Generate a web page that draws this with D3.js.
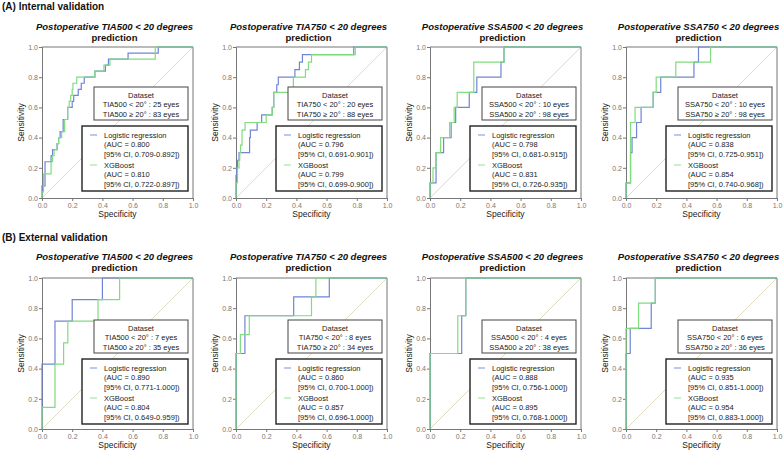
<!DOCTYPE html>
<html><head><meta charset="utf-8">
<script src="https://cdn.jsdelivr.net/npm/d3@7"></script>
<style>
body{margin:0;background:#fff;}
svg{display:block;font-family:"Liberation Sans",Arial,sans-serif;}
</style></head>
<body><svg id="c" width="784" height="455"></svg>
<script>
// ---------- DATA ----------
const rowLabels = ["(A) Internal validation", "(B) External validation"];
const measures = ["TIA500", "TIA750", "SSA500", "SSA750"];
const tickValues = [0, 0.2, 0.4, 0.6, 0.8, 1.0];
const seriesNames = ["Logistic regression", "XGBoost"];

// eyes counts [positives (<20°), negatives (≥20°)]
const eyesInternal = [[25, 83], [20, 88], [10, 98], [10, 98]];
const eyesExternal = [[7, 35], [8, 34], [4, 38], [6, 36]];

// AUC and CI text per panel [LR, XGB]
const aucInternal = [
  [["0.800", "0.709-0.892"], ["0.810", "0.722-0.897"]],
  [["0.796", "0.691-0.901"], ["0.799", "0.699-0.900"]],
  [["0.798", "0.681-0.915"], ["0.831", "0.726-0.935"]],
  [["0.838", "0.725-0.951"], ["0.854", "0.740-0.968"]]
];
const aucExternal = [
  [["0.890", "0.771-1.000"], ["0.804", "0.649-0.959"]],
  [["0.860", "0.700-1.000"], ["0.857", "0.696-1.000"]],
  [["0.888", "0.756-1.000"], ["0.895", "0.768-1.000"]],
  [["0.935", "0.851-1.000"], ["0.954", "0.883-1.000"]]
];

// ROC step points [x, sensitivity]
const lrA1 = [[0,0],[0,0.08],[0.02,0.24],[0.06,0.28],[0.07,0.32],[0.1,0.36],[0.11,0.40],[0.12,0.44],[0.14,0.52],[0.17,0.60],[0.2,0.64],[0.21,0.68],[0.24,0.72],[0.26,0.76],[0.28,0.80],[0.35,0.84],[0.42,0.88],[0.44,0.92],[0.57,0.96],[0.77,1],[1,1]];
const xgbA1 = [[0,0],[0,0.04],[0.01,0.16],[0.06,0.24],[0.07,0.28],[0.08,0.32],[0.1,0.36],[0.11,0.40],[0.13,0.44],[0.15,0.52],[0.17,0.60],[0.18,0.64],[0.19,0.68],[0.2,0.72],[0.205,0.76],[0.23,0.80],[0.35,0.84],[0.41,0.88],[0.45,0.92],[0.75,1],[1,1]];
const lrA2 = [[0,0],[0,0.15],[0.005,0.2],[0.01,0.25],[0.02,0.3],[0.09,0.4],[0.095,0.45],[0.14,0.5],[0.17,0.55],[0.24,0.6],[0.25,0.7],[0.27,0.75],[0.28,0.8],[0.39,0.85],[0.42,0.9],[0.44,0.95],[0.78,1],[1,1]];
const xgbA2 = [[0,0],[0,0.1],[0.01,0.2],[0.02,0.25],[0.025,0.3],[0.03,0.35],[0.04,0.45],[0.06,0.5],[0.2,0.55],[0.24,0.6],[0.25,0.7],[0.38,0.8],[0.46,0.85],[0.48,0.9],[0.5,0.95],[0.79,1],[1,1]];
const lrA3 = [[0,0],[0,0.1],[0.04,0.3],[0.09,0.4],[0.14,0.5],[0.17,0.6],[0.26,0.7],[0.31,0.8],[0.47,0.9],[0.49,1],[1,1]];
const xgbA3 = [[0,0],[0,0.1],[0.02,0.2],[0.04,0.3],[0.07,0.4],[0.13,0.5],[0.16,0.6],[0.18,0.7],[0.29,0.9],[0.49,1],[1,1]];
const lrA4 = [[0,0],[0,0.1],[0.03,0.3],[0.04,0.4],[0.07,0.5],[0.1,0.6],[0.18,0.7],[0.23,0.8],[0.45,0.9],[0.48,1],[1,1]];
const xgbA4 = [[0,0],[0,0.1],[0.03,0.5],[0.06,0.6],[0.18,0.7],[0.2,0.8],[0.33,0.9],[0.56,1],[1,1]];
const lrB1 = [[0,0],[0,0.429],[0.086,0.714],[0.2,0.857],[0.4,1],[1,1]];
const xgbB1 = [[0,0],[0,0.143],[0.086,0.429],[0.143,0.571],[0.171,0.714],[0.371,0.857],[0.514,1],[1,1]];
const lrB2 = [[0,0],[0,0.5],[0.059,0.75],[0.382,0.875],[0.618,1],[1,1]];
const xgbB2 = [[0,0],[0,0.5],[0.029,0.625],[0.088,0.75],[0.5,0.875],[0.529,1],[1,1]];
const lrB3 = [[0,0],[0,0.5],[0.21,0.75],[0.237,1],[1,1]];
const xgbB3 = [[0,0],[0,0.5],[0.184,0.75],[0.237,1],[1,1]];
const lrB4 = [[0,0],[0,0.5],[0.028,0.667],[0.167,0.833],[0.194,1],[1,1]];
const xgbB4 = [[0,0],[0,0.667],[0.083,0.833],[0.194,1],[1,1]];

const curvesInternal = [[lrA1, xgbA1], [lrA2, xgbA2], [lrA3, xgbA3], [lrA4, xgbA4]];
const curvesExternal = [[lrB1, xgbB1], [lrB2, xgbB2], [lrB3, xgbB3], [lrB4, xgbB4]];

// ---------- LAYOUT ----------
const svg = d3.select("#c");
const colLefts = [42, 236, 430, 626];
const rowTops = [47, 278];
const boxShift = [0, 2];
const W = 151, H = 151;
const colors = ["#7084d8", "#7fdc7f"];
const legendColors = ["#93a3e3", "#a6e6a6"];
const axisCol = "#777";

const rows = [
  {label: rowLabels[0], eyes: eyesInternal, auc: aucInternal, curves: curvesInternal, labelY: 6},
  {label: rowLabels[1], eyes: eyesExternal, auc: aucExternal, curves: curvesExternal, labelY: 237}
];

const x = d3.scaleLinear().domain([0, 1]).range([0, W]);
const y = d3.scaleLinear().domain([0, 1]).range([H, 0]);
const line = d3.line().x(d => x(d[0])).y(d => y(d[1])).curve(d3.curveStepAfter);

rows.forEach((row, ri) => {
  svg.append("text").attr("x", 2).attr("y", row.labelY).attr("dy", "0.35em")
    .attr("font-size", 10).attr("font-weight", "bold").attr("fill", "#111").text(row.label);

  measures.forEach((m, ci) => {
    const g = svg.append("g").attr("transform", `translate(${colLefts[ci]},${rowTops[ri]})`);
    const sh = boxShift[ri];

    // title
    g.append("text").attr("x", W / 2 - 3).attr("y", -20 - ri).attr("dy", "0.35em")
      .attr("text-anchor", "middle").attr("font-size", 9.5).attr("font-weight", "bold")
      .attr("font-style", "italic").attr("fill", "#111")
      .text(`Postoperative ${m} < 20 degrees`);
    g.append("text").attr("x", W / 2 - 3).attr("y", -9 - ri).attr("dy", "0.35em")
      .attr("text-anchor", "middle").attr("font-size", 9.5).attr("font-weight", "bold")
      .attr("fill", "#111").text("prediction");

    // diagonal
    g.append("line").attr("x1", x(0)).attr("y1", y(0)).attr("x2", x(1)).attr("y2", y(1))
      .attr("stroke", "#e0dbc3").attr("stroke-width", 1);

    // axes
    const ya = g.append("g").call(d3.axisLeft(y).tickValues(tickValues).tickSize(3).tickFormat(d3.format(".1f")));
    const xa = g.append("g").attr("transform", `translate(0,${H})`)
      .call(d3.axisBottom(x).tickValues(tickValues).tickSize(3).tickFormat(d3.format(".1f")));
    [ya, xa].forEach(a => {
      a.select(".domain").attr("stroke", axisCol);
      a.selectAll(".tick line").attr("stroke", axisCol);
      a.selectAll(".tick text").attr("fill", "#777").attr("font-size", 7)
        .attr("font-family", "Liberation Sans, Arial, sans-serif");
    });
    ya.selectAll(".tick text").attr("x", -4);
    xa.selectAll(".tick text").attr("y", 5);
    // top and right frame
    g.append("line").attr("x1", 0).attr("x2", W).attr("y1", 0).attr("y2", 0).attr("stroke", axisCol);
    g.append("line").attr("x1", W).attr("x2", W).attr("y1", 0).attr("y2", H).attr("stroke", axisCol);

    // curves
    row.curves[ci].forEach((pts, si) => {
      g.append("path").attr("d", line(pts)).attr("fill", "none")
        .attr("stroke", colors[si]).attr("stroke-width", 1.2);
    });

    // axis labels
    g.append("text").attr("transform", `translate(-21,${H / 2}) rotate(-90)`).attr("dy", "0.35em")
      .attr("text-anchor", "middle").attr("font-size", 8.5).attr("fill", "#222").text("Sensitivity");
    g.append("text").attr("x", W / 2).attr("y", H + 16).attr("dy", "0.35em")
      .attr("text-anchor", "middle").attr("font-size", 8.5).attr("fill", "#222").text("Specificity");

    // dataset box
    const dx0 = 52, dx1 = 146, dy0 = 40 + sh, dy1 = 73 + sh;
    g.append("rect").attr("x", dx0).attr("y", dy0).attr("width", dx1 - dx0).attr("height", dy1 - dy0)
      .attr("fill", "#fff").attr("stroke", "#444").attr("stroke-width", 1);
    const cx = (dx0 + dx1) / 2;
    const dsLines = ["Dataset", `${m} < 20° : ${row.eyes[ci][0]} eyes`, `${m} ≥ 20° : ${row.eyes[ci][1]} eyes`];
    dsLines.forEach((s, k) => {
      g.append("text").attr("x", cx).attr("y", 48 + sh + k * 9.5).attr("dy", "0.35em")
        .attr("text-anchor", "middle").attr("font-size", 7.5).attr("fill", "#222").text(s);
    });

    // legend box
    const lx0 = 40, lx1 = 146, ly0 = 79 + sh, ly1 = 144 + sh;
    g.append("rect").attr("x", lx0).attr("y", ly0).attr("width", lx1 - lx0).attr("height", ly1 - ly0)
      .attr("fill", "#fff").attr("stroke", "#222").attr("stroke-width", 1.4);
    seriesNames.forEach((name, si) => {
      const by = 88 + sh + si * 30;
      g.append("line").attr("x1", 48).attr("x2", 55).attr("y1", by).attr("y2", by)
        .attr("stroke", legendColors[si]).attr("stroke-width", 1.2);
      const a = row.auc[ci][si];
      [name, `(AUC = ${a[0]}`, `[95% CI, ${a[1]}])`].forEach((s, k) => {
        g.append("text").attr("x", 62).attr("y", by + k * 9.5).attr("dy", "0.35em")
          .attr("font-size", 7.5).attr("fill", "#222").text(s);
      });
    });
  });
});
</script>
</body></html>
